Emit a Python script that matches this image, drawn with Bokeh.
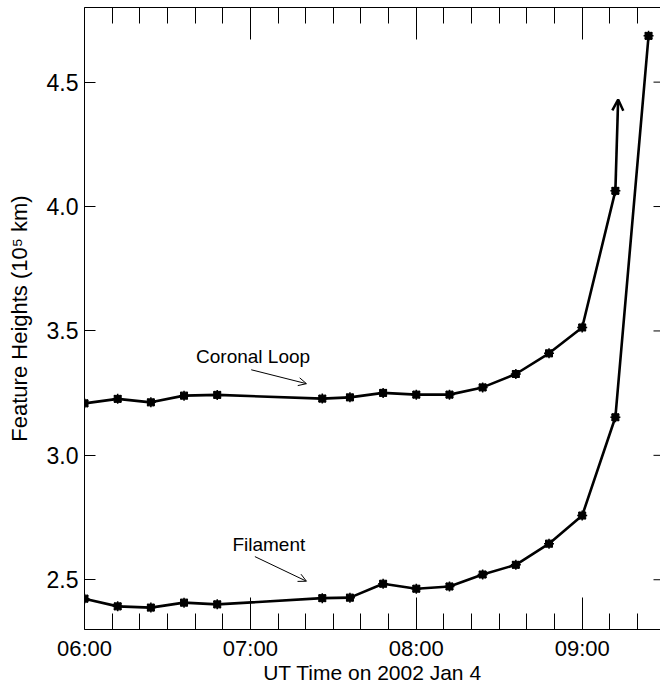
from bokeh.plotting import figure
from bokeh.models import Range1d, LinearAxis, FixedTicker, Arrow, OpenHead, Label, ColumnDataSource
from bokeh.embed import file_html
from bokeh.resources import INLINE

# ---- data ----
loop_times = ["06:00", "06:12", "06:24", "06:36", "06:48", "07:26", "07:36", "07:48",
              "08:00", "08:12", "08:24", "08:36", "08:48", "09:00", "09:12"]
loop_heights = [3.209, 3.227, 3.213, 3.240, 3.243, 3.228, 3.233, 3.251,
                3.244, 3.244, 3.273, 3.327, 3.410, 3.514, 4.063]

fil_times = ["06:00", "06:12", "06:24", "06:36", "06:48", "07:26", "07:36", "07:48",
             "08:00", "08:12", "08:24", "08:36", "08:48", "09:00", "09:12", "09:24"]
fil_heights = [2.424, 2.393, 2.388, 2.408, 2.401, 2.426, 2.428, 2.484,
               2.464, 2.473, 2.521, 2.560, 2.645, 2.758, 3.153, 4.686]

loop_arrow_end_time = "09:13"
loop_arrow_end_height = 4.43

x_ticks = [6, 7, 8, 9]
x_tick_labels = ["06:00", "07:00", "08:00", "09:00"]
y_ticks = [2.5, 3.0, 3.5, 4.0, 4.5]
y_tick_labels = ["2.5", "3.0", "3.5", "4.0", "4.5"]

annot_texts = ["Coronal Loop", "Filament"]
annot_text_pos = [(7.016, 3.398), (7.111, 2.640)]
annot_arrows = [((7.005, 3.344), (7.338, 3.288)), ((7.027, 2.593), (7.338, 2.494))]


def to_hours(t):
    h, m = t.split(":")
    return int(h) + int(m) / 60.0


loop_x = [to_hours(t) for t in loop_times]
fil_x = [to_hours(t) for t in fil_times]

FONT = "Liberation Sans"
X_START, X_END = 6.0, 9.472

p = figure(width=660, height=687, output_backend="svg", toolbar_location=None,
           x_range=Range1d(X_START, X_END), y_range=Range1d(2.3, 4.8),
           x_axis_location=None, y_axis_location=None,
           min_border_left=84, min_border_right=0, min_border_top=7, min_border_bottom=58)
p.outline_line_color = None
p.xgrid.visible = False
p.ygrid.visible = False
p.background_fill_color = "white"
p.border_fill_color = "white"

minor_x = [6 + i / 6.0 for i in range(0, 22) if i % 6 != 0]


def xaxis(labels=True):
    ax = LinearAxis(ticker=FixedTicker(ticks=x_ticks, minor_ticks=minor_x))
    ax.major_tick_in = 32
    ax.major_tick_out = 0
    ax.minor_tick_in = 16
    ax.minor_tick_out = 0
    ax.axis_line_color = "black"
    ax.major_tick_line_color = "black"
    ax.minor_tick_line_color = "black"
    if labels:
        ax.major_label_overrides = {t: l for t, l in zip(x_ticks, x_tick_labels)}
        ax.major_label_text_font = FONT
        ax.major_label_text_font_size = "22px"
        ax.major_label_text_color = "black"
        ax.major_label_standoff = 6
        ax.axis_label = "UT Time on 2002 Jan 4"
        ax.axis_label_text_font = FONT
        ax.axis_label_text_font_size = "21px"
        ax.axis_label_text_font_style = "normal"
        ax.axis_label_text_color = "black"
        ax.axis_label_standoff = -3
    else:
        ax.major_label_overrides = {t: "" for t in x_ticks}
        ax.major_label_standoff = 0
    return ax


yax = LinearAxis(ticker=FixedTicker(ticks=y_ticks, minor_ticks=[]))
yax.major_tick_in = 11
yax.major_tick_out = 0
yax.minor_tick_in = 0
yax.minor_tick_out = 0
yax.axis_line_color = "black"
yax.major_tick_line_color = "black"
yax.major_label_overrides = {t: l for t, l in zip(y_ticks, y_tick_labels)}
yax.major_label_text_font = FONT
yax.major_label_text_font_size = "23px"
yax.major_label_text_color = "black"
yax.major_label_standoff = 6
yax.axis_label = "Feature Heights (10\u2075 km)"
yax.axis_label_text_font = FONT
yax.axis_label_text_font_size = "22px"
yax.axis_label_text_font_style = "normal"
yax.axis_label_text_color = "black"
yax.axis_label_standoff = 12

p.add_layout(xaxis(True), "below")
p.add_layout(xaxis(False), "above")
p.add_layout(yax, "left")

# right-hand tick marks (the right axis itself lies just outside the picture)
p.scatter(x=[X_END] * len(y_ticks), y=y_ticks, marker="dash", size=14,
          line_color="black", line_width=1)

loop_src = ColumnDataSource(dict(x=loop_x, y=loop_heights))
fil_src = ColumnDataSource(dict(x=fil_x, y=fil_heights))

for src in (loop_src, fil_src):
    p.line("x", "y", source=src, line_color="black", line_width=2.6)
    p.scatter("x", "y", source=src, marker="square", size=7, fill_color="black", line_color="black")
    p.scatter("x", "y", source=src, marker="asterisk", size=10, line_color="black", line_width=1.5)

p.add_layout(Arrow(end=OpenHead(size=11, line_width=2.5, line_color="black"),
                   x_start=loop_x[-1], y_start=loop_heights[-1],
                   x_end=to_hours(loop_arrow_end_time), y_end=loop_arrow_end_height,
                   line_width=2.6, line_color="black"))

for txt, (tx, ty), ((ax0, ay0), (ax1, ay1)) in zip(annot_texts, annot_text_pos, annot_arrows):
    p.add_layout(Label(x=tx, y=ty, text=txt, text_align="center", text_baseline="middle",
                       text_font=FONT, text_font_size="19px", text_color="black"))
    p.add_layout(Arrow(end=OpenHead(size=8, line_width=1, line_color="black"),
                       x_start=ax0, y_start=ay0, x_end=ax1, y_end=ay1,
                       line_width=1, line_color="black"))

open("out.html", "w").write(file_html(p, INLINE))
